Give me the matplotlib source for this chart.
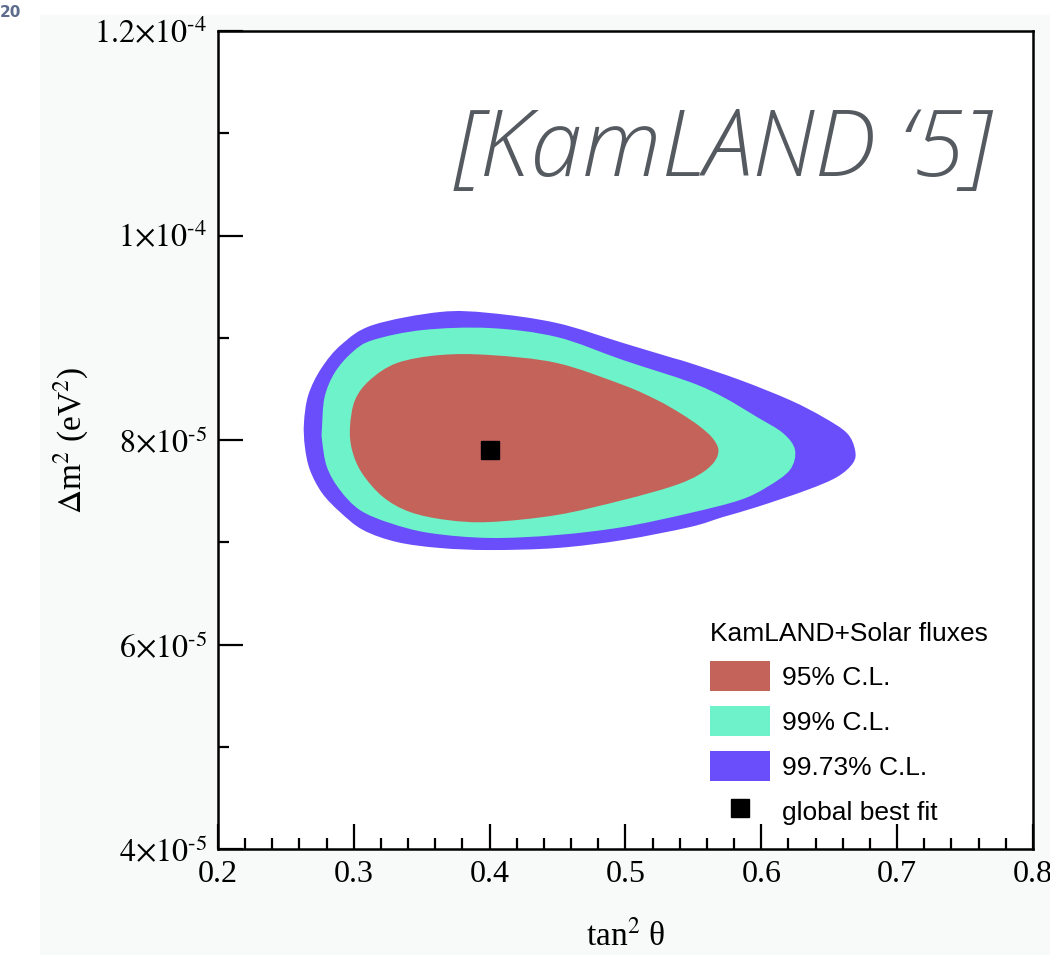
import numpy as np
import matplotlib.pyplot as plt
from matplotlib.patches import Patch, Rectangle, PathPatch
from matplotlib.path import Path
from matplotlib.lines import Line2D

# allowed regions in (tan^2 theta, delta m^2 [1e-5 eV^2]), traced clockwise
cl9973_x = [0.2633, 0.2665, 0.2760, 0.2910, 0.3141, 0.3634, 0.4002, 0.4496, 0.4982, 0.5350,
            0.5475, 0.5843, 0.6210, 0.6454, 0.6630, 0.6690, 0.6675, 0.6557, 0.6336, 0.5968,
            0.5718, 0.5475, 0.4982, 0.4496, 0.4002, 0.3634, 0.3318, 0.3068, 0.2898, 0.2766,
            0.2677, 0.2640]
cl9973_y = [8.166, 8.440, 8.700, 8.935, 9.125, 9.252, 9.242, 9.144, 8.949, 8.802,
            8.753, 8.587, 8.391, 8.225, 8.068, 7.902, 7.775, 7.638, 7.511, 7.345,
            7.247, 7.149, 7.022, 6.944, 6.924, 6.944, 7.002, 7.120, 7.296, 7.482,
            7.707, 7.932]

cl99_x = [0.2766, 0.2785, 0.2860, 0.2990, 0.3141, 0.3509, 0.4002, 0.4496, 0.4982, 0.5475,
          0.5718, 0.5968, 0.6159, 0.6248, 0.6210, 0.6042, 0.5843, 0.5475, 0.4982, 0.4496,
          0.4002, 0.3561, 0.3266, 0.3045, 0.2898, 0.2802, 0.2766]
cl99_y = [8.127, 8.420, 8.660, 8.860, 8.978, 9.076, 9.095, 9.007, 8.782, 8.567,
          8.421, 8.225, 8.068, 7.902, 7.707, 7.540, 7.413, 7.286, 7.149, 7.071,
          7.042, 7.090, 7.188, 7.315, 7.511, 7.736, 8.000]

cl95_x = [0.2972, 0.3009, 0.3119, 0.3318, 0.3634, 0.4002, 0.4496, 0.4982, 0.5232, 0.5401,
          0.5540, 0.5640, 0.5684, 0.5650, 0.5540, 0.5350, 0.4982, 0.4496, 0.4002, 0.3686,
          0.3414, 0.3215, 0.3060, 0.2987]
cl95_y = [8.127, 8.391, 8.587, 8.753, 8.831, 8.831, 8.753, 8.538, 8.391, 8.264,
          8.140, 8.020, 7.902, 7.780, 7.660, 7.550, 7.413, 7.267, 7.198, 7.218,
          7.296, 7.443, 7.677, 7.902]

best_fit = (0.40, 7.9)

labels = ['95% C.L.', '99% C.L.', '99.73% C.L.']
colors = ['#c4635a', '#6ef2c9', '#6a4dfb']
ytick_vals = [4e-5, 6e-5, 8e-5, 1e-4, 1.2e-4]
ytick_text = [('4', '5'), ('6', '5'), ('8', '5'), ('1', '4'), ('1.2', '4')]


def smooth_region(xs, ys, scale=1e-5):
    # closed cubic Bezier path through the traced points (Catmull-Rom tangents)
    p = np.column_stack([xs, np.array(ys) * scale])
    n = len(p)
    verts = [p[0]]
    codes = [Path.MOVETO]
    for i in range(n):
        p0, p1, p2, p3 = p[i - 1], p[i], p[(i + 1) % n], p[(i + 2) % n]
        verts += [p1 + (p2 - p0) / 6, p2 - (p3 - p1) / 6, p2]
        codes += [Path.CURVE4] * 3
    return Path(verts, codes)


plt.rcParams['mathtext.fontset'] = 'stix'
plt.rcParams['font.family'] = 'Liberation Serif'

fig = plt.figure(figsize=(10.5, 9.55), dpi=100)
fig.patches.append(Rectangle((40 / 1050, 0), 1, 1 - 15 / 955, transform=fig.transFigure,
                             color='#f8faf9', zorder=-10))
fig.text(0.0, 0.995, '20', fontsize=11, fontweight='bold', color='#5d6b8c', va='top',
         family='DejaVu Sans')

ax = fig.add_axes([0.2076, 0.111, 0.7762, 0.8565])
ax.set_facecolor('white')

for xs, ys, c in [(cl9973_x, cl9973_y, colors[2]), (cl99_x, cl99_y, colors[1]),
                  (cl95_x, cl95_y, colors[0])]:
    ax.add_patch(PathPatch(smooth_region(xs, ys), facecolor=c, edgecolor='none'))
ax.plot(best_fit[0], best_fit[1] * 1e-5, 's', color='black', ms=13)

ax.set_xlim(0.2, 0.8)
ax.set_ylim(4e-5, 1.2e-4)
ax.set_xticks(np.arange(0.2, 0.81, 0.1))
ax.set_xticklabels(['0.2', '0.3', '0.4', '0.5', '0.6', '0.7', '0.8'])
ax.set_xticks(np.arange(0.2, 0.8, 0.02), minor=True)
ax.set_yticks(ytick_vals)
ax.set_yticklabels(['$%s{\\times}10^{\u2010%s}$' % (m, e) for m, e in ytick_text])
ax.set_yticks(np.arange(4e-5, 1.2e-4, 1e-5), minor=True)

ax.tick_params(which='both', direction='in', top=False, right=False, width=1.6, labelsize=23)
ax.tick_params(which='major', length=18, pad=8)
ax.tick_params(which='minor', length=8)
for s in ax.spines.values():
    s.set_linewidth(1.8)

ax.set_xlabel('tan$^2$ \u03b8', fontsize=24, labelpad=22)
ax.set_ylabel(r'$\Delta$m$^2$ (eV$^2$)', fontsize=24, labelpad=2)

ax.text(0.947, 0.852, "[KamLAND \u20185]", transform=ax.transAxes, ha='right', va='center',
        fontsize=67, style='italic', fontweight=300, family='Open Sans', color='#555a61',
        bbox=dict(facecolor='white', edgecolor='none', pad=12))

handles = [Patch(facecolor=c, edgecolor='none') for c in colors]
handles.append(Line2D([], [], marker='s', color='black', ls='none', ms=13))
leg = ax.legend(handles, labels + ['global best fit'], title='KamLAND+Solar fluxes',
                loc='upper left', bbox_to_anchor=(0.588, 0.2934), frameon=False,
                prop={'family': 'Liberation Sans', 'size': 19},
                title_fontproperties={'family': 'Liberation Sans', 'size': 19},
                handlelength=2.27, handleheight=1.4, labelspacing=0.55, handletextpad=0.45,
                borderpad=0, alignment='left')

fig.savefig('out.png', dpi=100)
